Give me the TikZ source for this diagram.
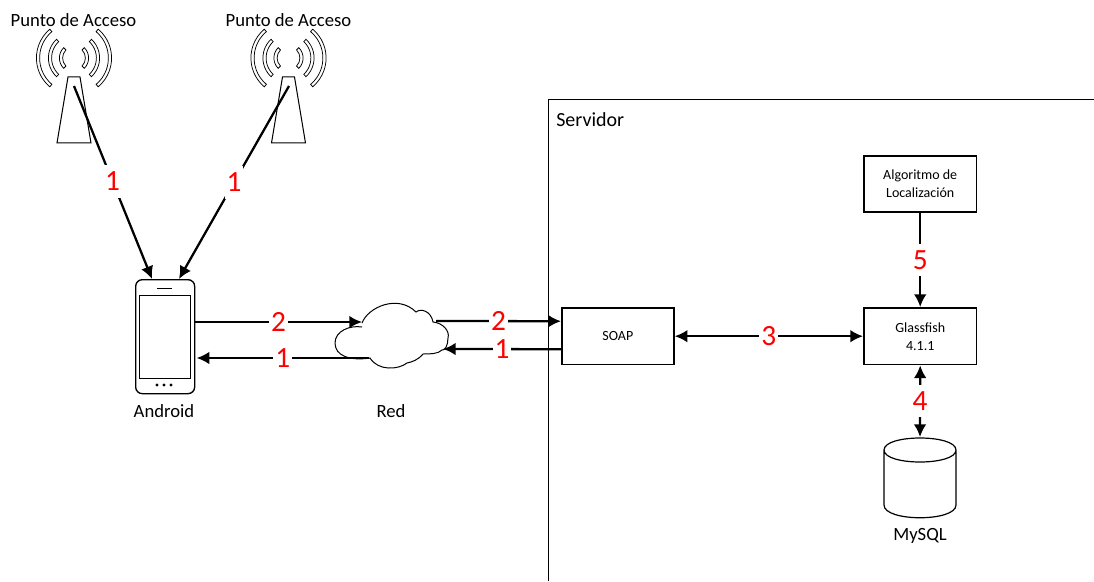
\documentclass[tikz,border=0pt]{standalone}
\usepackage{fontspec}
\setmainfont{Carlito}
\usetikzlibrary{arrows.meta}
\tikzset{
  conn/.style={line width=1.7pt,-{Latex[length=9.5pt,width=9.5pt]}},
  dconn/.style={line width=1.7pt,{Latex[length=9.5pt,width=9.5pt]}-{Latex[length=9.5pt,width=9.5pt]}},
  lbl/.style={fill=white,text=red,font=\fontsize{22}{22}\selectfont,inner xsep=1.5pt,inner ysep=5pt},
  boxn/.style={draw,line width=1.3pt,align=center,font=\fontsize{10.5}{13.5}\selectfont,inner sep=0pt,anchor=north west},
  capt/.style={font=\fontsize{14}{16}\selectfont,inner sep=0pt},
  outl/.style={draw,line width=.55pt}
}
\newcommand{\antenna}[2]{%
  \begin{scope}[shift={(#1,#2)}]
    \draw[line width=.75pt] (-6,19) -- (6,19) -- (17,85) -- (-17,85) -- cycle;
    \foreach \rr/\da/\st in {36/100/130,24/94/133,13/90/135}{
      \foreach \off in {0,180}{
      \path[outl] ({\st+\off}:\rr-1.6) arc[start angle={\st+\off},delta angle=\da,radius=\rr-1.6] -- ({\st+\off+\da}:\rr+1.6) arc[start angle={\st+\off+\da},delta angle=-\da,radius=\rr+1.6] -- cycle;
      }
    }
  \end{scope}}
\begin{document}
\begin{tikzpicture}[x=0.75pt,y=-0.75pt]
\useasboundingbox[fill=white] (0,0) rectangle (1094,581);
% servidor
\draw[line width=.75pt] (548,581) -- (548,100) -- (1094,100);
\node[font=\fontsize{15}{17}\selectfont,inner sep=0pt,anchor=west] (srv) at (556,120) {Servidor};
% antennas
\antenna{74}{58}
\antenna{288.5}{58}
\node[capt] (ap1) at (73.5,20) {Punto de Acceso};
\node[capt] (ap2) at (288.5,20) {Punto de Acceso};
\coordinate (t1) at (74,86);
\coordinate (t2) at (289,86);
% phone
\node[draw,line width=1pt,rounded corners=5pt,minimum width=44.25pt,minimum height=85.5pt,inner sep=0pt,anchor=north west] (phone) at (135,279) {};
\draw[line width=.75pt] (139.5,295) rectangle (190,378);
\draw[line width=.75pt] (157,288) -- (172,288);
\foreach \x in {157,164,171} \fill (\x,385) circle[radius=1.6];
\node[capt] (and) at (164,411) {Android};
% cloud
\draw[line width=.75pt] (362,323)
  .. controls (368,307) and (398,294) .. (416,312)
  .. controls (421,308) and (431,311) .. (433,322)
  .. controls (443,323) and (450,331) .. (448,338)
  .. controls (448,345) and (445,351) .. (442,350)
  .. controls (438,354) and (430,354) .. (423,354)
  .. controls (418,360) and (412,362) .. (407,363)
  .. controls (398,370) and (378,371) .. (370,358)
  .. controls (350,361) and (335,356) .. (335,343)
  .. controls (335,331) and (350,325) .. (362,327);
\coordinate (cl1) at (362,322);
\coordinate (cl2) at (369,358);
\coordinate (cl3) at (436,321);
\coordinate (cl4) at (443,349);
\node[capt] (red) at (391,411) {Red};
% boxes
\node[boxn,minimum width=84pt,minimum height=42.5pt] (soap) at (561,307) {SOAP};
\node[boxn,minimum width=84.5pt,minimum height=42.5pt] (gf) at (863,307) {Glassfish\\4.1.1};
\node[boxn,minimum width=84.5pt,minimum height=42pt] (alg) at (863,155) {Algoritmo de\\Localización};
% database
\draw[line width=.9pt] (884,450) .. controls (884,466) and (956,466) .. (956,450)
  .. controls (956,434) and (884,434) .. (884,450) -- (884,505)
  .. controls (884,522) and (956,522) .. (956,505) -- (956,450);
\coordinate (db) at (920,437);
\node[capt] (my) at (920,536) {MySQL};
% connectors
\draw[conn] (t1) -- node[lbl,pos=.495]{1} ([xshift=12.75pt]phone.north west);
\draw[conn] (t2) -- node[lbl,pos=.5]{1} ([xshift=33pt]phone.north west);
\draw[conn] ([yshift=-32.25pt]phone.north east) -- node[lbl,pos=.5]{2} (cl1);
\draw[conn] (cl2) -- node[lbl,pos=.5]{1} ([yshift=-59.25pt,xshift=1pt]phone.north east);
\draw[conn] (cl3) -- node[lbl,pos=.5]{2} ([yshift=11.25pt]soap.west);
\draw[conn] ([yshift=-9.75pt]soap.west) -- node[lbl,pos=.5]{1} (cl4);
\draw[dconn] (soap.east) -- node[lbl]{3} (gf.west);
\draw[conn] (alg.south) -- node[lbl]{5} (gf.north);
\draw[dconn] (gf.south) -- node[lbl]{4} (db);
\end{tikzpicture}
\end{document}
